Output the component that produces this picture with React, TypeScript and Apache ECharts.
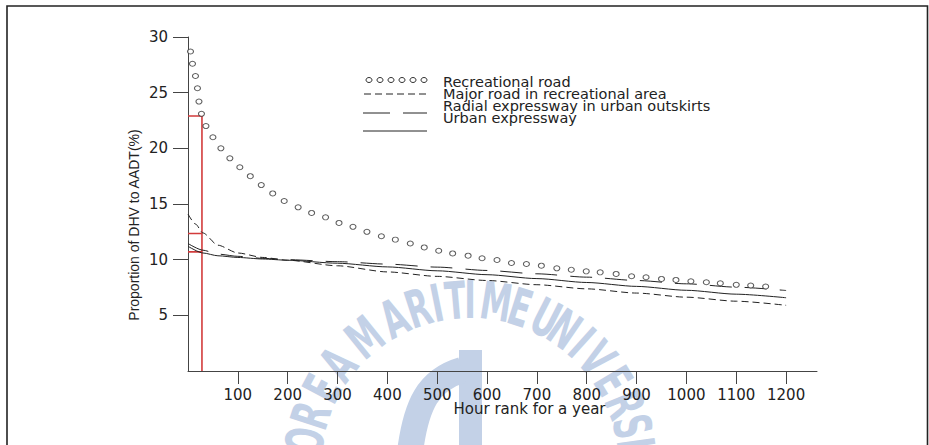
import React, { useEffect, useRef } from "react";
import * as echarts from "echarts";

// Recreational road (circles)
const recHours = [5, 9, 15, 19, 22, 27, 36, 50, 66, 84, 104, 125, 147, 170, 193, 221, 248, 276, 303, 331, 359, 388, 416, 446, 474, 503, 531, 562, 590, 620, 649, 679, 709, 740, 769, 799, 827, 859, 890, 919, 950, 979, 1009, 1040, 1068, 1100, 1129, 1159];
const recValues = [28.7, 27.6, 26.5, 25.4, 24.2, 23.1, 22.0, 21.0, 20.0, 19.1, 18.3, 17.5, 16.7, 15.95, 15.27, 14.7, 14.2, 13.8, 13.3, 12.95, 12.5, 12.1, 11.8, 11.45, 11.1, 10.8, 10.56, 10.36, 10.13, 9.97, 9.7, 9.61, 9.46, 9.22, 9.1, 8.95, 8.86, 8.72, 8.51, 8.42, 8.27, 8.18, 8.06, 7.97, 7.88, 7.74, 7.68, 7.59];

// Major road in recreational area (short dash)
const majorHours = [0, 15, 30, 60, 100, 150, 200, 300, 400, 500, 600, 700, 800, 900, 1000, 1100, 1200];
const majorValues = [14.1, 13.2, 12.4, 11.3, 10.6, 10.2, 9.95, 9.45, 8.9, 8.5, 8.13, 7.75, 7.38, 7.0, 6.63, 6.27, 5.9];

// Radial expressway in urban outskirts (long dash)
const radialHours = [0, 30, 60, 100, 150, 200, 300, 400, 500, 600, 700, 800, 900, 1000, 1100, 1200];
const radialValues = [11.45, 10.85, 10.5, 10.3, 10.12, 10.0, 9.82, 9.6, 9.33, 9.03, 8.73, 8.43, 8.13, 7.83, 7.53, 7.23];

// Urban expressway (solid)
const urbanHours = [0, 30, 60, 100, 150, 200, 300, 400, 500, 600, 700, 800, 900, 1000, 1100, 1200];
const urbanValues = [11.2, 10.6, 10.35, 10.2, 10.06, 9.95, 9.68, 9.35, 9.0, 8.65, 8.3, 7.95, 7.6, 7.25, 6.9, 6.58];

// Design hour (30th hour) markers
const designHour = 28;
const designLevels = [22.9, 12.35, 10.7];

const xTicks = [100, 200, 300, 400, 500, 600, 700, 800, 900, 1000, 1100, 1200];
const yTicks = [5, 10, 15, 20, 25, 30];

const legendNames = [
  "Recreational road",
  "Major road in recreational area",
  "Radial expressway in urban outskirts",
  "Urban expressway",
];

const watermarkLetters = ["O", "R", "E", "A", "M", "A", "R", "I", "T", "I", "M", "E", "U", "N", "I", "V", "E", "R", "S", "I"];
const watermarkAngles = [171, 162, 152, 142, 129, 117, 108, 101.5, 95, 90, 81, 72.5, 63, 55.5, 48, 40.5, 31, 22, 14, 8];

const zip = (xs: number[], ys: number[]) => xs.map((x, i) => [x, ys[i]]);

export default function App() {
  const ref = useRef<HTMLDivElement>(null);
  useEffect(() => {
    const chart = echarts.init(ref.current!, null, { renderer: "svg" });
    const ink = "#222";
    const font = "DejaVu Sans";
    const wm = "#c3d1e7";

    const graphics: any[] = [];
    // frame
    graphics.push({
      type: "rect",
      z: 1,
      shape: { x: 7, y: 6, width: 920.5, height: 460 },
      style: { fill: "none", stroke: "#222", lineWidth: 1.6 },
      silent: true,
    });
    // watermark
    const cx = 470, cy = 467, r = 167;
    watermarkLetters.forEach((ch, i) => {
      const a = (watermarkAngles[i] * Math.PI) / 180;
      graphics.push({
        type: "text",
        z: -100,
        silent: true,
        x: cx + r * Math.cos(a),
        y: cy - r * Math.sin(a),
        rotation: a - Math.PI / 2,
        scaleX: 0.6,
        style: {
          text: ch,
          fill: wm,
          font: `bold 52px ${font}`,
          textAlign: "center",
          textVerticalAlign: "middle",
        },
      });
    });
    graphics.push({
      type: "rect",
      z: -100,
      silent: true,
      shape: { x: 459, y: 350, width: 23, height: 100 },
      style: { fill: wm },
    });
    graphics.push({
      type: "bezierCurve",
      z: -100,
      silent: true,
      shape: { x1: 410, y1: 452, cpx1: 416, cpy1: 405, cpx2: 428, cpy2: 380, x2: 462, y2: 370 },
      style: { stroke: wm, lineWidth: 26, fill: "none" },
    });

    // legend symbols
    for (let i = 0; i < 6; i++) {
      graphics.push({
        type: "ellipse",
        z: 10,
        shape: { cx: 369 + i * 11, cy: 80, rx: 3, ry: 2.5 },
        style: { fill: "#fff", stroke: "#333", lineWidth: 1 },
      });
    }
    graphics.push({
      type: "line",
      z: 10,
      shape: { x1: 364, y1: 94, x2: 427, y2: 94 },
      style: { stroke: ink, lineWidth: 1, lineDash: [7, 4] },
    });
    graphics.push({
      type: "line",
      z: 10,
      shape: { x1: 363, y1: 113, x2: 390, y2: 113 },
      style: { stroke: ink, lineWidth: 1 },
    });
    graphics.push({
      type: "line",
      z: 10,
      shape: { x1: 403, y1: 113, x2: 427, y2: 113 },
      style: { stroke: ink, lineWidth: 1 },
    });
    graphics.push({
      type: "line",
      z: 10,
      shape: { x1: 363, y1: 131, x2: 427, y2: 131 },
      style: { stroke: ink, lineWidth: 1 },
    });
    const legendY = [81.7, 93.7, 105.8, 118];
    legendNames.forEach((t, i) => {
      graphics.push({
        type: "text",
        z: 10,
        x: 443,
        y: legendY[i],
        style: {
          text: t,
          fill: ink,
          font: `14.5px ${font}`,
          lineHeight: 12,
          textAlign: "left",
          textVerticalAlign: "middle",
        },
      });
    });
    // axis names
    graphics.push({
      type: "text",
      z: 10,
      x: 529.5,
      y: 409,
      style: {
        text: "Hour rank for a year",
        fill: ink,
        font: `15px ${font}`,
        textAlign: "center",
        textVerticalAlign: "middle",
      },
    });
    graphics.push({
      type: "text",
      z: 10,
      x: 134,
      y: 225,
      rotation: Math.PI / 2,
      style: {
        text: "Proportion of DHV to AADT(%)",
        fill: ink,
        font: `14px "Liberation Sans"`,
        textAlign: "center",
        textVerticalAlign: "middle",
      },
    });

    const lineSeries = (name: string, data: number[][], dash: any) => ({
      name,
      type: "line",
      data,
      smooth: 0.25,
      smoothMonotone: "x",
      showSymbol: false,
      symbol: "none",
      lineStyle: { color: ink, width: 1, type: dash },
      z: 3,
    });

    const redColor = "#d23b3b";
    const redSeries = [
      [[0, designLevels[0]], [designHour, designLevels[0]], [designHour, 0]],
      [[0, designLevels[1]], [designHour, designLevels[1]]],
      [[0, designLevels[2]], [designHour, designLevels[2]]],
    ].map((d, i) => ({
      name: "Design hour " + (i + 1),
      type: "line",
      data: d,
      symbol: "none",
      lineStyle: { color: redColor, width: 1.6 },
      z: 2,
    }));

    chart.setOption({
      animation: false,
      backgroundColor: "transparent",
      grid: { left: 188, top: 37, width: 629, height: 334 },
      xAxis: {
        type: "value",
        min: 0,
        max: 1262,
        interval: 100,
        axisLine: { show: true, lineStyle: { color: "#444", width: 1 } },
        axisTick: { show: true, length: 13, customValues: xTicks, lineStyle: { color: "#444" } },
        axisLabel: {
          customValues: xTicks,
          margin: 16,
          color: ink,
          fontSize: 15,
          fontFamily: font,
          formatter: (v: number) => (v === 0 ? "" : String(v)),
        },
        splitLine: { show: false },
      },
      yAxis: {
        type: "value",
        min: 0,
        max: 30,
        interval: 5,
        axisLine: { show: true, lineStyle: { color: "#444", width: 1 } },
        axisTick: { show: true, length: 15, customValues: yTicks, lineStyle: { color: "#444" } },
        axisLabel: {
          customValues: yTicks,
          margin: 20,
          color: ink,
          fontSize: 15,
          fontFamily: font,
          formatter: (v: number) => (v === 0 ? "" : String(v)),
        },
        splitLine: { show: false },
      },
      graphic: { elements: graphics },
      series: [
        {
          name: legendNames[0],
          type: "scatter",
          data: zip(recHours, recValues),
          symbol: "circle",
          symbolSize: [6, 5],
          itemStyle: { color: "#fff", borderColor: "#333", borderWidth: 1 },
          z: 4,
        },
        lineSeries(legendNames[1], zip(majorHours, majorValues), [7, 4]),
        lineSeries(legendNames[2], zip(radialHours, radialValues), [22, 13]),
        lineSeries(legendNames[3], zip(urbanHours, urbanValues), "solid"),
        ...redSeries,
      ],
    });
    return () => chart.dispose();
  }, []);
  return (
    <div
      ref={ref}
      style={{ position: "fixed", left: 0, top: 0, width: 929, height: 445, background: "#fff" }}
    />
  );
}
